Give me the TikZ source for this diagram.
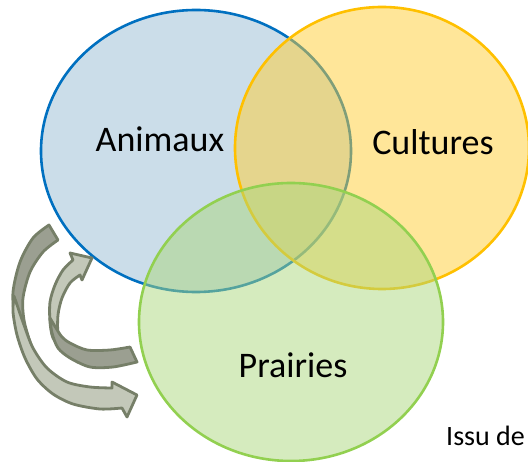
\documentclass[tikz,border=0pt]{standalone}
\usepackage{fontspec}
\setmainfont{Carlito}
\usetikzlibrary{positioning}

\definecolor{animblue}{RGB}{0,112,192}
\definecolor{animfill}{RGB}{151,187,211}
\definecolor{cultyellow}{RGB}{255,192,0}
\definecolor{cultfill}{RGB}{255,205,51}
\definecolor{prairgreen}{RGB}{146,208,80}
\definecolor{prairfill}{RGB}{171,215,125}
\definecolor{arrowline}{RGB}{118,127,104}
\definecolor{arrowdarkfill}{RGB}{155,159,145}
\definecolor{arrowlightfill}{RGB}{195,200,185}

\begin{document}
\begin{tikzpicture}[x=1pt,y=-1pt,
    setcircle/.style={line width=2.6pt,fill opacity=0.5},
    label/.style={inner sep=0pt,anchor=base,font=\fontsize{36}{43}\selectfont},
    arrowdark/.style={draw=arrowline,fill=arrowdarkfill,line width=2.8pt,line join=round},
    arrowlight/.style={draw=arrowline,fill=arrowlightfill,line width=2.8pt,line join=round}]
  \useasboundingbox (0,0) rectangle (528,462);

  % the three sets
  \draw[setcircle,draw=animblue,fill=animfill] (196,151) ellipse [x radius=155,y radius=141];
  \draw[setcircle,draw=cultyellow,fill=cultfill] (382,148) ellipse [x radius=147,y radius=141];
  \draw[setcircle,draw=prairgreen,fill=prairfill] (291,322) ellipse [x radius=152,y radius=139];

  \node[label] (animaux) at (160,152) {Animaux};
  \node[label] (cultures) at (433,155) {Cultures};
  \node[label] (prairies) at (293,378) {Prairies};

  % outer arrow, head at the bottom
  \draw[arrowdark] (49,225) -- plot[smooth] coordinates {(49,225) (33,238) (20,262) (13,292) (15,318) (23,342) (37,362)}
    -- plot[smooth] coordinates {(37,362) (30,342) (24,320) (23,298) (30,272) (43,252) (58,240)} -- cycle;
  \draw[arrowlight] plot[smooth] coordinates {(14,296) (24,325) (33,348) (47,368) (67,382) (90,387) (112,388)}
    -- (112,382) -- (137,395) -- (127,417) -- (122,408)
    -- plot[smooth] coordinates {(122,408) (100,409) (73,404) (53,394) (37,379) (25,358) (17,335) (13,312) (14,296)} -- cycle;

  % inner arrow, head at the top
  \draw[arrowlight] (73,260) -- (70,253) -- (92,258) -- (82,280) -- (80,275)
    -- plot[smooth] coordinates {(80,275) (70,283) (62,298) (58,315) (58,335) (62,348)}
    -- plot[smooth] coordinates {(62,348) (53,338) (50,322) (50,302) (55,285) (63,270) (73,260)} -- cycle;
  \draw[arrowdark] (130,347) -- (137,362)
    -- plot[smooth] coordinates {(137,362) (113,367) (90,367) (70,358) (58,348) (52,333) (50,318)}
    -- plot[smooth] coordinates {(50,318) (56,328) (62,337) (70,343) (87,350) (110,350) (130,347)} -- cycle;

  \node[inner sep=0pt,anchor=base west,font=\fontsize{28}{34}\selectfont] (source) at (446,446) {Issu de};
\end{tikzpicture}
\end{document}
